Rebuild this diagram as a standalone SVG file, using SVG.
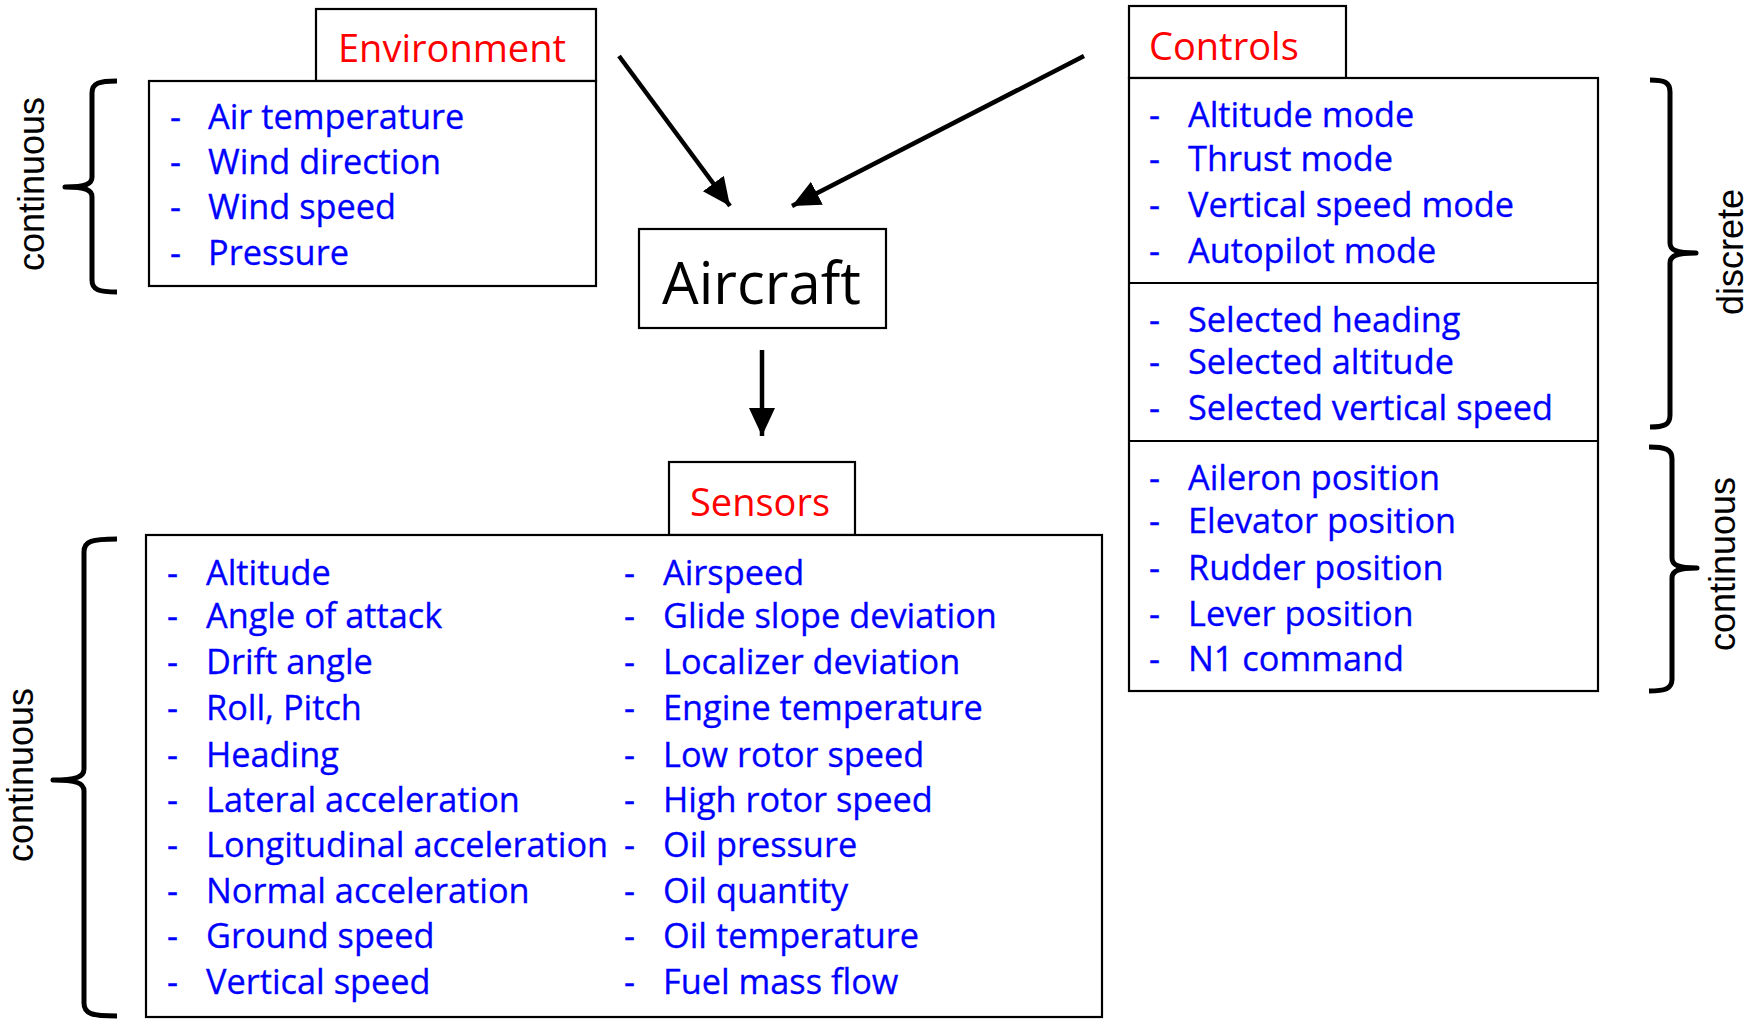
<svg xmlns="http://www.w3.org/2000/svg" width="1760" height="1019" viewBox="0 0 1760 1019">
<style>
.box{fill:#fff;stroke:#000;stroke-width:2.2}
.hdr{font-family:"Open Sans","Noto Sans",sans-serif;font-size:38px;fill:#ff0000}
.it{font-family:"Open Sans","Noto Sans",sans-serif;font-size:34.3px;fill:#0000ff;stroke:#0000ff;stroke-width:0.3}
.lbl{font-family:"Liberation Sans",Arial,sans-serif;font-size:36px;fill:#000;text-anchor:middle}
.br{fill:none;stroke:#000;stroke-width:5;stroke-linejoin:round}
.ar{fill:none;stroke:#000;stroke-width:4.5}
</style>
<defs>
<marker id="ah" markerUnits="userSpaceOnUse" markerWidth="30" markerHeight="28" refX="28" refY="13" orient="auto">
<path d="M0,0 L28,13 L0,26 z" fill="#000"/>
</marker>
</defs>
<rect width="1760" height="1019" fill="#fff"/>

<g id="environment">
<rect class="box" x="316" y="9" width="280" height="72"/>
<rect class="box" x="149" y="81" width="447" height="205"/>
<text class="hdr" x="338" y="62" font-size="39">Environment</text>
<g class="it">
<text x="170" y="129">-</text><text x="208" y="129">Air temperature</text>
<text x="170" y="174">-</text><text x="208" y="174">Wind direction</text>
<text x="170" y="219">-</text><text x="208" y="219">Wind speed</text>
<text x="170" y="265">-</text><text x="208" y="265">Pressure</text>
</g>
</g>

<g id="aircraft">
<rect class="box" x="639" y="229" width="247" height="99"/>
<text x="662" y="304" font-family="'Open Sans','Noto Sans',sans-serif" font-size="58" fill="#000">Aircraft</text>
</g>

<g id="controls">
<rect class="box" x="1129" y="6" width="217" height="72"/>
<rect class="box" x="1129" y="78" width="469" height="613"/>
<line x1="1129" y1="283" x2="1598" y2="283" stroke="#000" stroke-width="2.2"/>
<line x1="1129" y1="441" x2="1598" y2="441" stroke="#000" stroke-width="2.2"/>
<text class="hdr" x="1149" y="60" font-size="38.5">Controls</text>
<g class="it">
<text x="1149" y="127">-</text><text x="1188" y="127">Altitude mode</text>
<text x="1149" y="171">-</text><text x="1188" y="171">Thrust mode</text>
<text x="1149" y="217">-</text><text x="1188" y="217">Vertical speed mode</text>
<text x="1149" y="263">-</text><text x="1188" y="263">Autopilot mode</text>
<text x="1149" y="332">-</text><text x="1188" y="332">Selected heading</text>
<text x="1149" y="374">-</text><text x="1188" y="374">Selected altitude</text>
<text x="1149" y="420">-</text><text x="1188" y="420">Selected vertical speed</text>
<text x="1149" y="490">-</text><text x="1188" y="490">Aileron position</text>
<text x="1149" y="533">-</text><text x="1188" y="533">Elevator position</text>
<text x="1149" y="580">-</text><text x="1188" y="580">Rudder position</text>
<text x="1149" y="626">-</text><text x="1188" y="626">Lever position</text>
<text x="1149" y="671">-</text><text x="1188" y="671">N1 command</text>
</g>
</g>

<g id="sensors">
<rect class="box" x="669" y="462" width="186" height="73"/>
<rect class="box" x="146" y="535" width="956" height="482"/>
<text class="hdr" x="690" y="516">Sensors</text>
<g class="it">
<text x="167" y="585">-</text><text x="206" y="585">Altitude</text>
<text x="167" y="628">-</text><text x="206" y="628">Angle of attack</text>
<text x="167" y="674">-</text><text x="206" y="674">Drift angle</text>
<text x="167" y="720">-</text><text x="206" y="720">Roll, Pitch</text>
<text x="167" y="767">-</text><text x="206" y="767">Heading</text>
<text x="167" y="812">-</text><text x="206" y="812">Lateral acceleration</text>
<text x="167" y="857">-</text><text x="206" y="857">Longitudinal acceleration</text>
<text x="167" y="903">-</text><text x="206" y="903">Normal acceleration</text>
<text x="167" y="948">-</text><text x="206" y="948">Ground speed</text>
<text x="167" y="994">-</text><text x="206" y="994">Vertical speed</text>
<text x="624" y="585">-</text><text x="663" y="585">Airspeed</text>
<text x="624" y="628">-</text><text x="663" y="628">Glide slope deviation</text>
<text x="624" y="674">-</text><text x="663" y="674">Localizer deviation</text>
<text x="624" y="720">-</text><text x="663" y="720">Engine temperature</text>
<text x="624" y="767">-</text><text x="663" y="767">Low rotor speed</text>
<text x="624" y="812">-</text><text x="663" y="812">High rotor speed</text>
<text x="624" y="857">-</text><text x="663" y="857">Oil pressure</text>
<text x="624" y="903">-</text><text x="663" y="903">Oil quantity</text>
<text x="624" y="948">-</text><text x="663" y="948">Oil temperature</text>
<text x="624" y="994">-</text><text x="663" y="994">Fuel mass flow</text>
</g>
</g>

<g id="connectors">
<line class="ar" x1="619" y1="56" x2="730" y2="206" marker-end="url(#ah)"/>
<line class="ar" x1="1084" y1="56" x2="792" y2="206" marker-end="url(#ah)"/>
<line class="ar" x1="762" y1="350" x2="762" y2="436" marker-end="url(#ah)"/>
</g>

<g id="braces">
<path class="br" d="M117,81 C99,81 92,83 92,93 L92,177 C92,184 86,187 65,187 C86,187 92,190 92,197 L92,280 C92,290 99,292 117,292"/>
<path class="br" d="M117,539 C92,539 84,541 84,552 L84,769 C84,777 76,780 53,780 C76,780 84,783 84,791 L84,1003 C84,1014 92,1016 117,1016"/>
<path class="br" d="M1650,80 C1664,80 1670,82 1670,92 L1670,243 C1670,250 1676,253 1696,253 C1676,253 1670,256 1670,263 L1670,415 C1670,425 1664,427 1650,427"/>
<path class="br" d="M1649,447 C1665,447 1672,449 1672,459 L1672,558 C1672,565 1678,568 1697,568 C1678,568 1672,571 1672,578 L1672,679 C1672,689 1665,691 1649,691"/>
<text class="lbl" transform="translate(44,184) rotate(-90)">continuous</text>
<text class="lbl" transform="translate(33,775) rotate(-90)">continuous</text>
<text class="lbl" transform="translate(1743,252) rotate(-90)">discrete</text>
<text class="lbl" transform="translate(1735,564) rotate(-90)">continuous</text>
</g>
</svg>
